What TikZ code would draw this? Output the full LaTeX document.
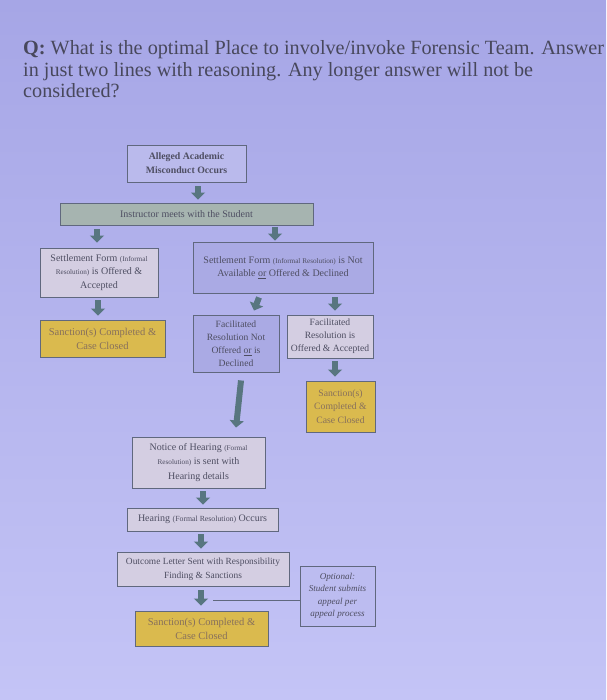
\documentclass[tikz,border=0pt]{standalone}
\usepackage{fontspec}
\setmainfont{Liberation Serif}
\usetikzlibrary{arrows.meta}
\definecolor{bgtop}{RGB}{166,166,230}
\definecolor{bgbot}{RGB}{196,196,246}
\definecolor{boxpink}{RGB}{212,206,226}
\definecolor{boxlav}{RGB}{170,170,228}
\definecolor{boxtop}{RGB}{186,186,236}
\definecolor{boxgreen}{RGB}{166,180,176}
\definecolor{boxgold}{RGB}{218,186,78}
\definecolor{boxopt}{RGB}{188,188,240}
\definecolor{edge}{RGB}{96,104,126}
\definecolor{arr}{RGB}{88,118,128}
\definecolor{txt}{RGB}{78,78,98}
\definecolor{goldtxt}{RGB}{135,112,92}
\definecolor{titletxt}{RGB}{72,72,92}
\newcommand{\smtxt}{\fontsize{7.2}{8}\selectfont}
\tikzset{
  flowbox/.style={draw=edge, line width=0.9pt, align=center, text=txt,
    font=\fontsize{10}{13.8}\selectfont, inner sep=1pt},
  pinkbox/.style={flowbox, fill=boxpink},
  lavbox/.style={flowbox, fill=boxlav},
  goldbox/.style={flowbox, fill=boxgold, text=goldtxt},
  blockarrow/.style={draw=arr, line width=6pt, -{Triangle[width=14pt,length=7pt]}},
  titleline/.style={anchor=base west, inner sep=0pt, text=titletxt,
    font=\fontsize{20.2}{21}\selectfont},
}
\begin{document}
\begin{tikzpicture}[x=1pt,y=-1pt]
\shade[top color=bgtop, bottom color=bgbot] (0,0) rectangle (606,700);
\useasboundingbox (0,0) rectangle (606,700);

% title
\node[titleline] (t1) at (23,55) {\textbf{Q:} What is the optimal Place to involve/invoke Forensic Team. Answer};
\node[titleline] (t2) at (23,77) {in just two lines with reasoning. Any longer answer will not be};
\node[titleline] (t3) at (23,98) {considered?};

% boxes
\node[flowbox, fill=boxtop, minimum width=119pt, minimum height=37pt,
  font=\bfseries\fontsize{9.8}{14}\selectfont] (a1) at (186.5,163.5)
  {Alleged Academic\\Misconduct Occurs};
\node[flowbox, fill=boxgreen, minimum width=253pt, minimum height=22pt] (a2) at (186.5,214)
  {Instructor meets with the Student};
\node[pinkbox, minimum width=118pt, minimum height=49pt] (a3) at (99,272.5)
  {Settlement Form {\smtxt(Informal}\\{\smtxt Resolution)} is Offered \&\\Accepted};
\node[lavbox, minimum width=180pt, minimum height=51pt] (a4) at (283,267.5)
  {Settlement Form {\smtxt(Informal Resolution)} is Not\\Available \underline{or} Offered \& Declined};
\node[goldbox, minimum width=125pt, minimum height=37pt,
  font=\fontsize{10.5}{14}\selectfont] (a5) at (102.5,338.5)
  {Sanction(s) Completed \&\\Case Closed};
\node[lavbox, minimum width=86pt, minimum height=57pt,
  font=\fontsize{9.6}{13}\selectfont] (a6) at (236,343.5)
  {Facilitated\\Resolution Not\\Offered \underline{or} is\\Declined};
\node[pinkbox, minimum width=86pt, minimum height=43pt,
  font=\fontsize{9.6}{13}\selectfont] (a7) at (330,336.5)
  {Facilitated\\Resolution is\\Offered \& Accepted};
\node[goldbox, minimum width=69pt, minimum height=51pt,
  font=\fontsize{9.7}{13.5}\selectfont] (a8) at (340.5,406.5)
  {Sanction(s)\\Completed \&\\Case Closed};
\node[pinkbox, minimum width=133pt, minimum height=51pt,
  font=\fontsize{10}{14.5}\selectfont] (a9) at (198.5,462.5)
  {Notice of Hearing {\smtxt(Formal}\\{\smtxt Resolution)} is sent with\\Hearing details};
\node[pinkbox, minimum width=151pt, minimum height=23pt] (a10) at (202.5,519.5)
  {Hearing {\fontsize{7.8}{8}\selectfont(Formal Resolution)} Occurs};
\node[pinkbox, minimum width=172pt, minimum height=34pt,
  font=\fontsize{9.4}{13.5}\selectfont] (a11) at (203,569)
  {Outcome Letter Sent with Responsibility\\Finding \& Sanctions};
\node[flowbox, fill=boxopt, line width=0.6pt, minimum width=75pt, minimum height=60pt,
  font=\itshape\fontsize{9.1}{12.5}\selectfont] (a12) at (337.5,596)
  {Optional:\\Student submits\\appeal per\\appeal process};
\node[goldbox, minimum width=133pt, minimum height=35pt,
  font=\fontsize{10.5}{14}\selectfont] (a13) at (201.5,628.5)
  {Sanction(s) Completed \&\\Case Closed};

% block arrows
\draw[blockarrow] ([xshift=11.5pt,yshift=-4pt]a1.south) -- ([xshift=11.5pt,yshift=3pt]a2.north);
\draw[blockarrow] ([xshift=-89.5pt,yshift=-4pt]a2.south) -- ([xshift=-2pt,yshift=5pt]a3.north);
\draw[blockarrow] ([xshift=88.5pt,yshift=-1.5pt]a2.south) -- ([xshift=-8pt,yshift=1pt]a4.north);
\draw[blockarrow] ([xshift=-1pt,yshift=-3pt]a3.south) -- ([xshift=-4.5pt,yshift=4pt]a5.north);
\draw[blockarrow] ([xshift=-24pt,yshift=-4pt]a4.south) -- ([xshift=18pt,yshift=4pt]a6.north);
\draw[blockarrow] ([xshift=52pt,yshift=-4pt]a4.south) -- ([xshift=5pt,yshift=4pt]a7.north);
\draw[blockarrow] ([xshift=5pt,yshift=-3pt]a7.south) -- ([xshift=-5.5pt,yshift=4pt]a8.north);
\draw[blockarrow] ([xshift=5pt,yshift=-8pt]a6.south) -- ([xshift=37.5pt,yshift=9pt]a9.north);
\draw[blockarrow] ([xshift=4.5pt,yshift=-3pt]a9.south) -- ([xshift=0.5pt,yshift=3pt]a10.north);
\draw[blockarrow] ([xshift=-1.5pt,yshift=-3pt]a10.south) -- ([xshift=-2pt,yshift=3pt]a11.north);
\draw[blockarrow] ([xshift=-2pt,yshift=-4pt]a11.south) -- ([xshift=-0.5pt,yshift=5pt]a13.north);

% appeal link
\coordinate (lk) at (213,600);
\draw[draw=edge, line width=0.7pt] (lk) -- (lk -| a12.west);
\end{tikzpicture}
\end{document}
